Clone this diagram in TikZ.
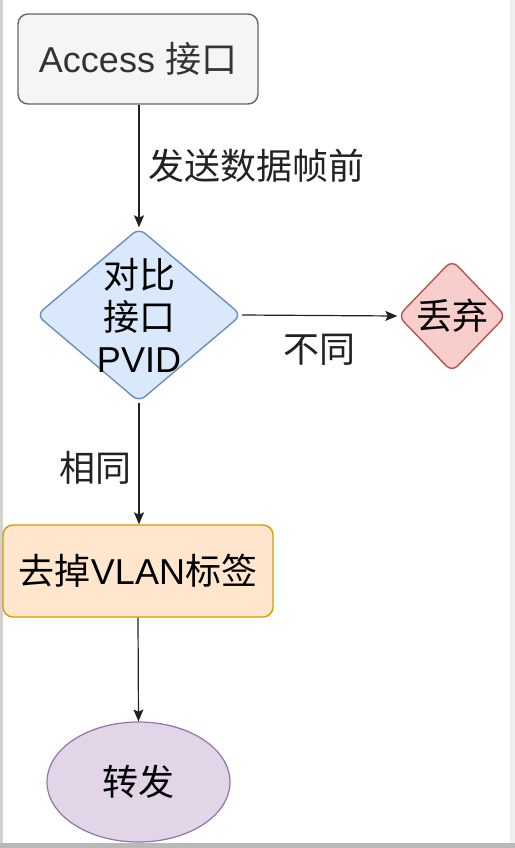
\documentclass[tikz,border=0pt]{standalone}
\usepackage{fontspec}
\setmainfont{Liberation Sans}
\newfontfamily\cjk{Noto Sans CJK SC}
\usepackage{xcolor}
\usetikzlibrary{arrows.meta,positioning,shapes.geometric}
\definecolor{gyf}{HTML}{F5F5F5}
\definecolor{gyd}{HTML}{666666}
\definecolor{blf}{HTML}{DAE8FC}
\definecolor{bld}{HTML}{6C8EBF}
\definecolor{rdf}{HTML}{F8CECC}
\definecolor{rdd}{HTML}{B85450}
\definecolor{orf}{HTML}{FFE6CC}
\definecolor{ord}{HTML}{D79B00}
\definecolor{puf}{HTML}{E1D5E7}
\definecolor{pud}{HTML}{9673A6}
\definecolor{ln}{HTML}{222222}
\newcommand{\zh}[1]{{\cjk #1}}

\begin{document}
\begin{tikzpicture}[x=0.5pt,y=-0.5pt,
    font=\fontsize{18pt}{21pt}\selectfont,
    box/.style={rectangle, rounded corners=5pt, line width=0.7pt, inner sep=0pt, align=center},
    dia/.style={diamond, rounded corners=4pt, line width=0.7pt, inner sep=0pt},
    arr/.style={ln, line width=0.6pt, -{Stealth[length=6pt,width=5pt,inset=1.2pt]}}]
  % page with its shadow
  \useasboundingbox (0,0) rectangle (515,848);
  \fill[white] (0,0) rectangle (515,848);
  \fill[gray!35] (0,0) rectangle (3,848);
  \fill[gray!12] (510,0) rectangle (515,848);
  \fill[gray!55] (0,843) rectangle (515,848);

  \node[box, fill=gyf, draw=gyd, text=black!80, minimum width=120pt, minimum height=45pt]
    (acc) at (138,59) {Access \zh{接口}};
  \node[dia, fill=blf, draw=bld, minimum width=102.5pt, minimum height=87pt] (cmp) at (139,315) {};
  \node[align=center, inner sep=0pt] (cmptxt) at (cmp) {\zh{对比}\\\zh{接口}\\PVID};
  \node[dia, fill=rdf, draw=rdd, minimum width=54pt, minimum height=56pt] (drop) at (452,316) {};
  \node[inner sep=0pt] (droptxt) at (drop) {\zh{丢弃}};
  \node[box, fill=orf, draw=ord, minimum width=135pt, minimum height=46pt]
    (strip) at (138,571) {\zh{去掉}VLAN\zh{标签}};
  \node[ellipse, fill=puf, draw=pud, line width=0.6pt, inner sep=0pt,
    minimum width=91.5pt, minimum height=60pt] (fwd) at (138.5,782) {\zh{转发}};

  \draw[arr] (acc.south -| cmp.north) -- (cmp.north) node[midway, right, xshift=1pt] (lsend) {\zh{发送数据帧前}};
  \draw[arr] (cmp.east) -- (drop.west) node[midway, yshift=-17pt] (ldiff) {\zh{不同}};
  \draw[arr] (cmp.south) -- (strip.north -| cmp.south) node[midway, left, yshift=-2pt] (lsame) {\zh{相同}};
  \draw[arr] (strip.south) -- (fwd.north);
\end{tikzpicture}
\end{document}
